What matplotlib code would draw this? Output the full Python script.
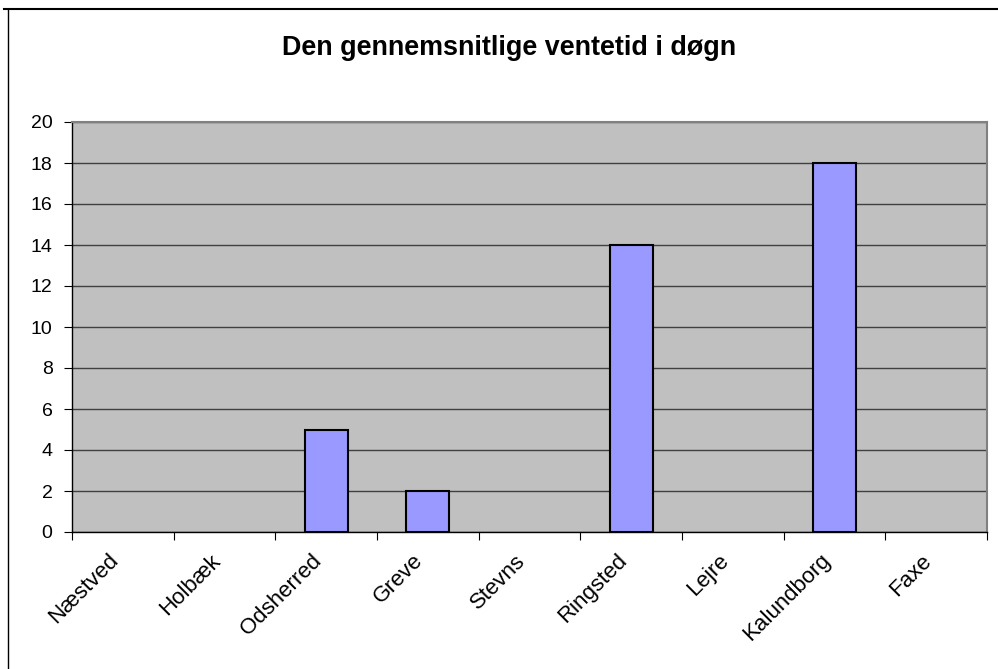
import matplotlib
matplotlib.use("Agg")
import matplotlib.pyplot as plt
from matplotlib.lines import Line2D
from matplotlib.transforms import ScaledTranslation
import numpy as np

plt.rcParams['font.family'] = ['Liberation Sans', 'DejaVu Sans']

categories = ["Næstved", "Holbæk", "Odsherred", "Greve", "Stevns", "Ringsted", "Lejre", "Kalundborg", "Faxe"]
values = [0, 0, 5, 2, 0, 14, 0, 18, 0]
title = "Den gennemsnitlige ventetid i døgn"

W, H = 998, 669
fig = plt.figure(figsize=(W/100, H/100), dpi=100)
ax = fig.add_axes([72/W, 1-532/H, (987-72)/W, (532-122)/H])
ax.set_facecolor('#c0c0c0')

x = np.arange(len(categories))
edges = ['black' if v > 0 else 'none' for v in values]
ax.bar(x, values, width=0.42, color='#9999ff', edgecolor=edges, linewidth=1.5, zorder=3)

ax.set_xlim(-0.5, len(categories)-0.5)
ax.set_ylim(0, 20)
ax.set_yticks(np.arange(0, 21, 2))
ax.yaxis.grid(True, color='#404040', linewidth=1.0, zorder=1)
ax.set_axisbelow(True)
ax.tick_params(axis='y', direction='out', length=6, labelsize=14, pad=8, color='black')

ax.set_xticks(np.arange(len(categories)+1)-0.5, minor=False)
ax.set_xticklabels([])
ax.tick_params(axis='x', which='major', direction='out', length=6, color='black')
ax.set_xticks(x, minor=True)
ax.set_xticklabels(categories, minor=True, rotation=45, ha='right', va='top', rotation_mode='anchor', fontsize=16)
ax.tick_params(axis='x', which='minor', length=0, pad=8)
off = ScaledTranslation(-15/100, -7/100, fig.dpi_scale_trans)
for lbl in ax.get_xticklabels(minor=True):
    lbl.set_transform(lbl.get_transform() + off)

for s in ['top', 'right']:
    ax.spines[s].set_color('#808080')
    ax.spines[s].set_linewidth(1.5)
for s in ['left', 'bottom']:
    ax.spines[s].set_color('black')
    ax.spines[s].set_linewidth(1.0)

fig.text(509/W, 1-48/H, title, ha='center', va='center', fontsize=19.4, fontweight='bold')

fig.add_artist(Line2D([4/W, 1], [1-9/H, 1-9/H], color='black', linewidth=1.5, transform=fig.transFigure))
fig.add_artist(Line2D([8/W, 8/W], [0, 1-9/H], color='black', linewidth=1.0, transform=fig.transFigure))

fig.savefig("out.png", dpi=100)
